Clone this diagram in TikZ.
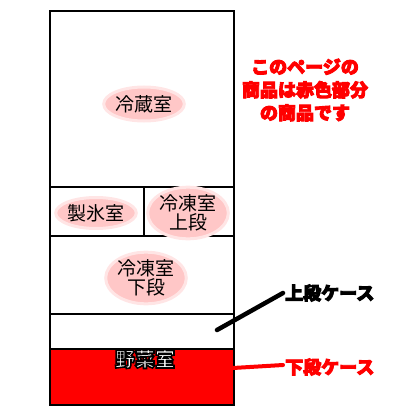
\documentclass[tikz,border=0pt]{standalone}
\usepackage{fontspec}
\setmainfont{Noto Sans CJK JP}
\usetikzlibrary{positioning,shapes.geometric}

\tikzset{
  RoomStyle/.style={draw=black,line width=2pt},
  BubbleStyle/.style={ellipse,fill=red!22,draw=red!10,line width=3pt,
    inner sep=0pt,align=center,font=\fontsize{19}{19}\selectfont},
  NoteStyle/.style={inner sep=0pt,anchor=west,font=\bfseries\fontsize{18}{20}\selectfont},
  LeadStyle/.style={line width=4.5pt,line cap=round}
}
% white letters with a black rim
\newcommand{\rimtext}[1]{\textcolor{white}{\special{pdf:code q 2 Tr 1.6 w 0 G 1 g}#1\special{pdf:code Q}}}
% extra heavy letters (stroke in the given pdf colour)
\newcommand{\heavytext}[2]{\special{pdf:code q 2 Tr 0.9 w #1}#2\special{pdf:code Q}}

\begin{document}
\begin{tikzpicture}[x=1pt,y=-1pt]
		\useasboundingbox (0,0) rectangle (420,420);
		% fridge body
		\fill[red] (49.5,349) rectangle (234,405);
		\draw[RoomStyle] (49.5,11) rectangle (234,405);
		\draw[RoomStyle] (49.5,187) -- (234,187);
		\draw[RoomStyle] (49.5,236) -- (234,236);
		\draw[RoomStyle] (49.5,314) -- (234,314);
		\draw[RoomStyle] (49.5,349) -- (234,349);
		\draw[RoomStyle] (144,187) -- (144,236);
		% room names
		\node[BubbleStyle,minimum width=70,minimum height=34] (reizo) at (144,104) {冷蔵室};
		\node[BubbleStyle,minimum width=70,minimum height=31] (seihyo) at (96,213) {製氷室};
		\node[BubbleStyle,minimum width=68,minimum height=44] (reitoU) at (188,213) {冷凍室\\上段};
		\node[BubbleStyle,minimum width=70,minimum height=42] (reitoL) at (146,278) {冷凍室\\下段};
		\node[inner sep=0pt,font=\bfseries\fontsize{20}{20}\selectfont] (yasai) at (145,359) {\rimtext{野菜室}};
		% note
		\node[inner sep=0pt,align=center,text=red,font=\bfseries\fontsize{18}{23}\selectfont] (note) at (305,90)
			{\heavytext{1 0 0 RG}{このページの\\商品は赤色部分\\の商品です}};
		% cases
		\node[NoteStyle] (upper) at (285,293) {\heavytext{0 G}{上段ケース}};
		\node[NoteStyle,text=red] (lower) at (285,367) {\heavytext{1 0 0 RG}{下段ケース}};
		\coordinate (upperEnd) at (217,330);
		\coordinate (lowerEnd) at (233,368);
		\draw[LeadStyle] (upperEnd) -- ([xshift=-2pt]upper.west);
		\draw[LeadStyle,red,line width=4pt] (lowerEnd) -- ([xshift=-2pt,yshift=2pt]lower.west);
	\end{tikzpicture}
\end{document}
